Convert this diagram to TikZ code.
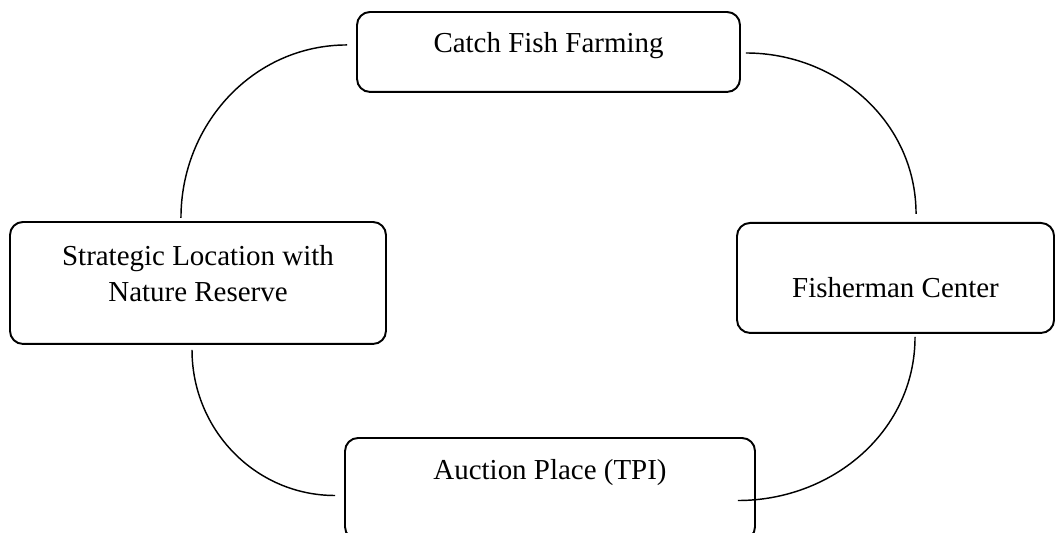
\documentclass[tikz,border=0pt]{standalone}
\usepackage{fontspec}
\setmainfont{Liberation Serif}
\tikzset{
  stagebox/.style={draw, line width=0.8pt, rounded corners=0.19cm, align=center,
                   font=\fontsize{12}{15.3}\selectfont, inner sep=0pt},
  cyclearc/.style={line width=0.6pt}
}
\begin{document}
\begin{tikzpicture}
    % Cadre de la figure
    \useasboundingbox (0,0) rectangle (15.368,7.764);

    % Les quatre blocs du cycle
    \node[stagebox, minimum width=5.579cm, minimum height=1.165cm,
          text height=0.291cm, text depth=0.262cm] (farm) at (7.990,7.007) {Catch Fish Farming};
    \node[stagebox, minimum width=5.477cm, minimum height=1.777cm,
          text height=0.654cm, text depth=0.1cm] (loc) at (2.884,3.642) {Strategic Location with\\Nature Reserve};
    \node[stagebox, minimum width=4.618cm, minimum height=1.602cm,
          text height=0.728cm, text depth=0.146cm] (center) at (13.045,3.715) {Fisherman Center};
    \node[stagebox, minimum width=5.972cm, minimum height=1.486cm,
          text height=0.291cm, text depth=0.554cm] (tpi) at (8.012,0.641) {Auction Place (TPI)};

    % Extrémités des arcs
    \coordinate (a1) at ([xshift=-0.131cm, yshift=0.102cm]farm.west);
    \coordinate (b1) at ([xshift=-0.248cm, yshift=0.044cm]loc.north);
    \coordinate (a2) at ([xshift=0.073cm, yshift=-0.015cm]farm.east);
    \coordinate (b2) at ([xshift=0.299cm, yshift=0.117cm]center.north);
    \coordinate (a3) at ([xshift=0.284cm, yshift=-0.044cm]center.south);
    \coordinate (b3) at ([xshift=-0.262cm, yshift=-0.168cm]tpi.east);
    \coordinate (a4) at ([xshift=-0.087cm, yshift=-0.073cm]loc.south);
    \coordinate (b4) at ([xshift=-0.131cm, yshift=-0.095cm]tpi.west);

    % Arcs reliant les blocs
    \draw[cyclearc] (a1) to[out=180, in=90] (b1);
    \draw[cyclearc] (a2) to[out=0, in=90] (b2);
    \draw[cyclearc] (a3) to[out=-90, in=0] (b3);
    \draw[cyclearc] (a4) to[out=-90, in=180] (b4);
\end{tikzpicture}
\end{document}
